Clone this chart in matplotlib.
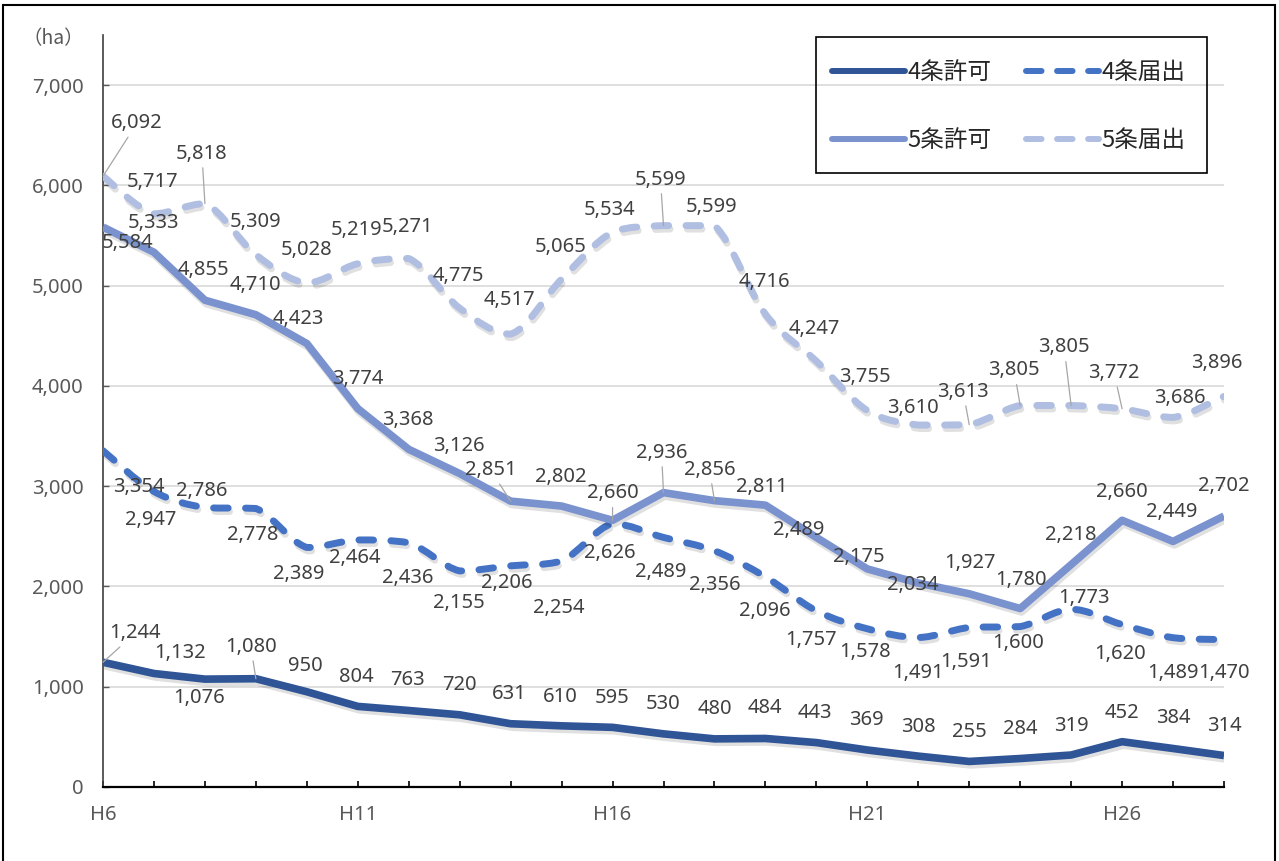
import matplotlib
matplotlib.use('Agg')
import matplotlib.pyplot as plt
import matplotlib.patheffects as pe
from matplotlib.path import Path
from matplotlib.patches import PathPatch, Rectangle
from matplotlib.lines import Line2D
import numpy as np

plt.rcParams['font.family'] = ['Noto Sans', 'Noto Sans CJK JP', 'DejaVu Sans']

years = ['H%d' % n for n in range(6, 29)]
permit4 = [1244, 1132, 1076, 1080, 950, 804, 763, 720, 631, 610, 595, 530,
           480, 484, 443, 369, 308, 255, 284, 319, 452, 384, 314]
notify4 = [3354, 2947, 2786, 2778, 2389, 2464, 2436, 2155, 2206, 2254, 2626, 2489,
           2356, 2096, 1757, 1578, 1491, 1591, 1600, 1773, 1620, 1489, 1470]
permit5 = [5584, 5333, 4855, 4710, 4423, 3774, 3368, 3126, 2851, 2802, 2660, 2936,
           2856, 2811, 2489, 2175, 2034, 1927, 1780, 2218, 2660, 2449, 2702]
notify5 = [6092, 5717, 5818, 5309, 5028, 5219, 5271, 4775, 4517, 5065, 5534, 5599,
           5599, 4716, 4247, 3755, 3610, 3613, 3805, 3805, 3772, 3686, 3896]

# data label offsets (pixels from the point)
off_p4 = list(zip([32, 26, -6, -5, -1, -1, -1, 0, -1, -1, 0, 0, 0, -1, -1, -1, 0, 0, 0, 0, 0, 0, 0],
                  [29, 20, -19, 32, 26, 29, 30, 30, 30, 29, 29, 30, 30, 30, 30, 30, 29, 29, 30, 29, 29, 30, 30]))
off_n4 = list(zip([36, -3, -3, -3, -8, -3, -1, -1, -4, -3, -3, -3, 0, -1, -5, -2, 0, -3, -2, 13, -2, 0, 0],
                  [-36, -28, 17, -27, -27, -18, -35, -32, -17, -47, -29, -35, -34, -34, -29, -23, -35, -35, -16, 11, -29, -35, -33]))
off_p5 = list(zip([24, -1, -1, 0, -9, 0, -1, -1, -20, -1, 0, -2, -5, -4, -18, -9, -6, 1, 1, 0, 0, -1, 0],
                  [-16, 29, 30, 30, 25, 30, 29, 28, 31, 29, 27, 40, 31, 18, 7, 12, -2, 31, 29, 30, 28, 29, 30]))
off_n5 = list(zip([34, -1, -3, 0, 0, -1, -1, -1, -1, -1, -3, -3, -3, -1, -2, -2, -5, -6, -6, -7, -8, 7, -7],
                  [53, 32, 50, 33, 33, 34, 31, 32, 34, 32, 22, 46, 19, 32, 32, 33, 17, 33, 35, 58, 36, 19, 33]))
lead_p4 = [0, 3]
lead_n4 = []
lead_p5 = [8, 10, 11, 12]
lead_n5 = [0, 2, 11, 17, 18, 19, 20]


def smooth_path(vals):
    # Bezier through the points, control points kept within each segment's range
    x = np.arange(len(vals), dtype=float)
    y = np.asarray(vals, dtype=float)
    n = len(y)
    verts = [(x[0], y[0])]
    codes = [Path.MOVETO]
    for i in range(n - 1):
        a, b = max(i - 1, 0), min(i + 2, n - 1)
        lo, hi = min(y[i], y[i + 1]), max(y[i], y[i + 1])
        c1y = np.clip(y[i] + (y[i + 1] - y[a]) / 6, lo, hi)
        c2y = np.clip(y[i + 1] - (y[b] - y[i]) / 6, lo, hi)
        c1 = (x[i] + (x[i + 1] - x[a]) / 6, c1y)
        c2 = (x[i + 1] - (x[b] - x[i]) / 6, c2y)
        verts += [c1, c2, (x[i + 1], y[i + 1])]
        codes += [Path.CURVE4] * 3
    return Path(verts, codes)


fig = plt.figure(figsize=(12.79, 8.61), dpi=100)
ax = fig.add_axes([103 / 1279, 74 / 861, 1121 / 1279, 752 / 861])

series = [
    ('4条許可', permit4, '#2F5597', '-', off_p4, lead_p4),
    ('4条届出', notify4, '#4472C4', '--', off_n4, lead_n4),
    ('5条許可', permit5, '#7A92CE', '-', off_p5, lead_p5),
    ('5条届出', notify5, '#B0BEE2', '--', off_n5, lead_n5),
]
dash = (0, (2.1, 2.5))
shadow = [pe.SimpleLineShadow(offset=(1, -2.5), shadow_color='#000000', alpha=0.12), pe.Normal()]

handles = {}
for name, vals, col, ls, offs, leads in series:
    if ls == '-':
        line, = ax.plot(range(len(vals)), vals, color=col, lw=5.5,
                        solid_joinstyle='round', solid_capstyle='butt', zorder=3)
        line.set_path_effects(shadow)
        handles[name] = Line2D([], [], color=col, lw=4.3, solid_capstyle='round')
    else:
        patch = PathPatch(smooth_path(vals), fill=False, edgecolor=col, lw=5.0,
                          linestyle=dash, zorder=3)
        patch.set_capstyle('round')
        patch.set_joinstyle('round')
        patch.set_path_effects(shadow)
        ax.add_patch(patch)
        handles[name] = Line2D([], [], color=col, lw=4.3, linestyle=(0, (2.6, 2.6)),
                               dash_capstyle='round')
    for i, v in enumerate(vals):
        dx, dy = offs[i]
        ap = None
        if i in leads:
            ap = dict(arrowstyle='-', color='#a6a6a6', lw=0.9, shrinkA=1, shrinkB=0)
        ax.annotate(f'{v:,}', xy=(i, v), xytext=(dx, dy), textcoords='offset pixels',
                    ha='center', va='center', fontsize=14.5, color='#404040',
                    arrowprops=ap, annotation_clip=False, zorder=5)

ax.set_xlim(0, len(years) - 1)
ax.set_ylim(0, 7500)
ax.set_yticks(range(0, 7001, 1000))
ax.set_yticklabels([f'{t:,}' for t in range(0, 7001, 1000)])
ax.set_xticks(range(len(years)))
ax.set_xticklabels([y if i % 5 == 0 else '' for i, y in enumerate(years)])
ax.tick_params(axis='x', direction='in', length=4.5, width=1.2, color='black',
               labelcolor='#595959', labelsize=14.5, pad=13)
ax.tick_params(axis='y', direction='in', length=4.5, width=1.0, color='#595959',
               labelcolor='#595959', labelsize=14.5, pad=14)
ax.grid(axis='y', color='#d9d9d9', lw=1.2)
ax.set_axisbelow(True)
for s in ['top', 'right']:
    ax.spines[s].set_visible(False)
ax.spines['left'].set_color('#404040')
ax.spines['left'].set_linewidth(1.2)
ax.spines['bottom'].set_color('black')
ax.spines['bottom'].set_linewidth(1.6)

order = ['4条許可', '5条許可', '4条届出', '5条届出']
leg = ax.legend([handles[k] for k in order], order, ncol=2, loc='upper left',
                bbox_to_anchor=((832 - 103) / 1121, (787 - 61) / 752), borderaxespad=0,
                prop={'family': ['Noto Sans CJK JP'], 'size': 17},
                handlelength=3.1, handletextpad=0.1, columnspacing=1.45,
                labelspacing=1.9, borderpad=0, frameon=False)
for t in leg.get_texts():
    t.set_color('#262626')
fig.patches.append(Rectangle((816 / 1279, 1 - 173 / 861), 391 / 1279, 136 / 861,
                             transform=fig.transFigure, fill=False,
                             edgecolor='black', lw=1.2))

fig.text(53 / 1279, 1 - 39 / 861, '（ha）', ha='center', va='center',
         fontsize=14, color='#595959', family=['Noto Sans CJK JP'])
fig.patches.append(Rectangle((3 / 1279, -0.02), 1272 / 1279, 1 - 5 / 861 + 0.02,
                             transform=fig.transFigure, fill=False,
                             edgecolor='black', lw=1.5))

fig.savefig('out.png', dpi=100)
